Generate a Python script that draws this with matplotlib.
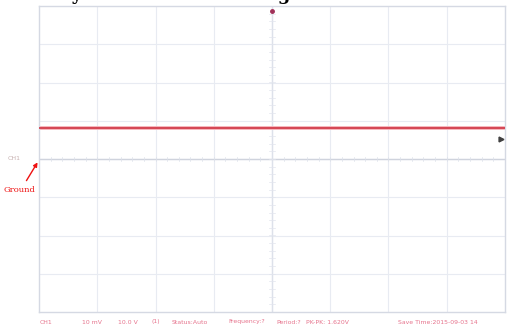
import numpy as np
import matplotlib.pyplot as plt

# screen layout in divisions
n_xdiv = 8
n_ydiv = 8

# CH1 trace (volts per div offsets)
trace_t = [0.0, 8.0]
trace_v = [0.81, 0.81]
ground_level = 0.0
trig_level = 0.52
trig_pos = 4.0

status_labels = ['CH1', '10 mV', '10.0 V', '(1)', 'Status:Auto', 'Frequency:?',
                 'Period:?', 'PK-PK: 1.620V', 'Save Time:2015-09-03 14']
status_x = [40, 82, 118, 152, 172, 228, 276, 306, 398]

fig = plt.figure(figsize=(5.10, 3.31), dpi=100)
W, H = 510, 331
ax = fig.add_axes([39 / W, (H - 312) / H, 466 / W, 306 / H])
ax.set_xlim(0, n_xdiv)
ax.set_ylim(-n_ydiv / 2, n_ydiv / 2)

# grid
grid_col = '#e8ebf2'
for x in range(1, n_xdiv):
    ax.axvline(x, color=grid_col, lw=0.8, zorder=0)
for y in range(-n_ydiv // 2 + 1, n_ydiv // 2):
    ax.axhline(y, color=grid_col, lw=0.8, zorder=0)
ax.axvline(n_xdiv / 2, color='#dde1ea', lw=1.0, zorder=0)
ax.axhline(ground_level, color='#cfd3dd', lw=1.0, zorder=0)
# minor ticks along the center lines
for xs in np.arange(0, n_xdiv, 0.2):
    ax.plot([xs, xs], [-0.06, 0.06], color='#dde1ea', lw=0.5, zorder=0)
for ys in np.arange(-n_ydiv / 2, n_ydiv / 2, 0.2):
    ax.plot([n_xdiv / 2 - 0.05, n_xdiv / 2 + 0.05], [ys, ys], color='#e2e5ee',
            lw=0.5, zorder=0)

ax.set_xticks([])
ax.set_yticks([])
for s in ax.spines.values():
    s.set_color('#d5d9e3')
    s.set_linewidth(1.0)

# DC trace
ax.plot(trace_t, trace_v, color='#f6b4bb', lw=2.8, solid_capstyle='butt', zorder=2)
ax.plot(trace_t, trace_v, color='#cc2838', lw=1.1, solid_capstyle='butt', zorder=3)

# trigger markers
ax.plot(trig_pos, 3.87, marker='o', ms=2.5, color='#a03058', clip_on=False, zorder=4)
ax.plot(7.93, trig_level, marker='>', ms=3.5, color='#404040', clip_on=False, zorder=4)

# channel label and ground arrow (figure pixel coords)
fig.text(8 / W, 1 - 158 / H, 'CH1', fontsize=4.5, color='#b09090', va='center',
         alpha=0.7)
fig.text(4 / W, 1 - 190 / H, 'Ground', fontsize=6, color='#ee1111', va='center',
         family='DejaVu Serif')
ax.annotate('', xy=(39 / W, 1 - 160 / H), xycoords='figure fraction',
            xytext=(25 / W, 1 - 183 / H), textcoords='figure fraction',
            arrowprops=dict(arrowstyle='-|>', color='#ee1111', lw=1.0,
                            mutation_scale=6))

# heading above the screen, only the descenders fall inside the frame
fig.text(-2 / W, 1 + 0.5 / H, 'Stability of the DC bus voltage', fontsize=12.8,
         fontweight='bold', family='DejaVu Serif', ha='left', va='baseline',
         color='black')

# status bar
for lbl, x in zip(status_labels, status_x):
    fig.text(x / W, 1 - 322 / H, lbl, fontsize=4.4, color='#e05070', va='center',
             alpha=0.8)

fig.savefig('out.png', dpi=100)
